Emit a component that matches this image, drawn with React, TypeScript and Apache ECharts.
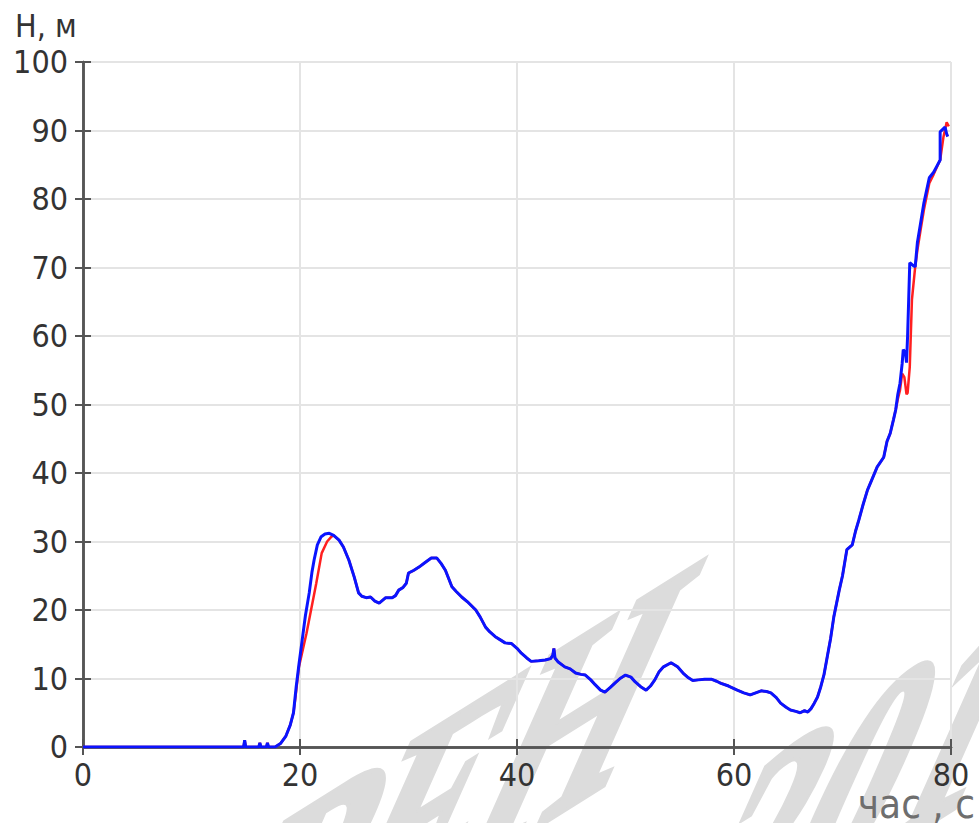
import React, { useEffect, useRef } from "react";
import * as echarts from "echarts";

// Flat start with a few short blips before the climb begins.
const leadIn: [number, number][] = [
  [0, 0], [14.8, 0], [14.9, 1.0], [15.0, 0], [16.2, 0], [16.3, 0.6], [16.4, 0],
  [16.9, 0], [17.0, 0.6], [17.1, 0], [17.7, 0], [18.2, 0.5], [18.7, 1.6],
  [19.1, 3.2], [19.4, 5.0],
];

// First climb, measured track (blue).
const blueRise: [number, number][] = [
  [19.65, 8.8], [19.9, 12.0], [20.2, 15.6], [20.5, 19.2], [20.85, 22.5],
  [21.1, 25.5], [21.3, 27.3], [21.6, 29.5], [21.95, 30.7], [22.3, 31.1],
  [22.7, 31.2],
];

// First climb, reference track (red).
const redRise: [number, number][] = [
  [19.6, 7.5], [19.9, 11.7], [20.6, 16.6], [21.5, 23.9], [22.0, 28.3],
  [22.5, 30.0], [22.9, 30.7],
];

// Section where both tracks coincide.
const shared: [number, number][] = [
  [23.1, 30.9], [23.6, 30.2], [24.0, 29.2], [24.5, 27.3], [25.0, 24.8],
  [25.4, 22.5], [25.7, 22.0], [26.1, 21.8], [26.5, 21.9], [26.9, 21.3],
  [27.3, 21.0], [27.6, 21.4], [27.9, 21.8], [28.5, 21.8], [28.8, 22.1],
  [29.1, 22.9], [29.5, 23.3], [29.8, 23.9], [30.0, 25.4], [30.5, 25.8],
  [31.0, 26.3], [31.5, 26.9], [32.1, 27.6], [32.6, 27.6], [33.0, 26.8],
  [33.4, 25.8], [34.0, 23.4], [34.4, 22.7], [34.9, 21.9], [35.5, 21.1],
  [36.2, 20.0], [36.6, 19.0], [37.1, 17.5], [37.5, 16.8], [38.0, 16.1],
  [38.5, 15.6], [38.9, 15.2], [39.5, 15.1], [40.0, 14.4], [40.4, 13.7],
  [40.9, 13.0], [41.3, 12.5], [42.0, 12.6], [42.6, 12.7], [43.1, 12.9],
  [43.3, 13.4], [43.4, 14.4], [43.5, 13.0], [43.8, 12.4], [44.4, 11.7],
  [44.9, 11.4], [45.4, 10.8], [45.9, 10.6], [46.3, 10.5], [46.8, 9.8],
  [47.2, 9.1], [47.7, 8.3], [48.1, 8.0], [48.6, 8.7], [49.0, 9.3],
  [49.5, 10.0], [50.0, 10.5], [50.5, 10.2], [50.9, 9.5], [51.4, 8.8],
  [51.9, 8.3], [52.3, 8.9], [52.7, 9.8], [53.1, 11.0], [53.5, 11.7],
  [54.2, 12.3], [54.8, 11.7], [55.3, 10.8], [55.8, 10.1], [56.2, 9.7],
  [56.7, 9.8], [57.3, 9.9], [57.9, 9.9], [58.4, 9.6], [58.8, 9.3],
  [59.5, 8.9], [60.3, 8.3], [60.9, 7.9], [61.5, 7.6], [62.0, 7.9],
  [62.5, 8.2], [63.0, 8.1], [63.4, 7.9], [63.9, 7.2], [64.3, 6.4],
  [64.8, 5.8], [65.2, 5.4], [65.7, 5.2], [66.1, 5.0], [66.5, 5.3],
  [66.8, 5.1], [67.1, 5.6], [67.4, 6.4], [67.7, 7.3], [68.0, 8.8],
  [68.3, 10.6], [68.6, 13.2], [68.9, 15.8], [69.2, 19.0], [69.7, 22.9],
  [70.0, 25.0], [70.4, 28.8], [70.9, 29.5], [71.2, 31.5], [71.5, 33.1],
  [71.9, 35.4], [72.3, 37.5], [72.7, 39.0], [73.2, 40.9], [73.8, 42.3],
  [74.1, 44.6], [74.4, 45.8], [74.7, 47.8], [74.9, 49.2],
];

// Final steep climb, measured track (blue).
const blueTop: [number, number][] = [
  [75.1, 51.5], [75.3, 53.1], [75.5, 56.0], [75.6, 58.0], [75.8, 57.6],
  [75.9, 56.1], [76.0, 60.0], [76.1, 65.3], [76.2, 70.7], [76.5, 70.3],
  [76.7, 70.1], [76.9, 73.6], [77.2, 76.5], [77.5, 79.4], [78.0, 83.1],
  [78.4, 83.9], [78.7, 84.8], [79.0, 85.7], [79.0, 89.8], [79.45, 90.5],
  [79.6, 89.5], [79.7, 89.1],
];

// Final steep climb, reference track (red).
const redTop: [number, number][] = [
  [75.1, 50.8], [75.3, 52.1], [75.5, 54.5], [75.7, 54.0], [75.9, 51.5],
  [76.0, 51.7], [76.2, 55.5], [76.4, 65.3], [76.7, 70.1], [76.9, 72.5],
  [77.2, 75.5], [77.5, 78.4], [78.0, 82.3], [78.4, 83.6], [79.0, 85.7],
  [79.3, 89.0], [79.6, 91.2], [79.8, 90.6],
];

const blueTrack = [...leadIn, ...blueRise, ...shared, ...blueTop];
const redTrack = [...leadIn, ...redRise, ...shared, ...redTop];

const xTicks = { min: 0, max: 80, step: 20 };
const yTicks = { min: 0, max: 100, step: 10 };

const yName = "H, м";
const xName = "час , с";
const stampLines = ["РЕН", "201"];

const axisColor = "#555555";
const labelFont = "'DejaVu Sans Condensed', 'Noto Sans', sans-serif";

// Builds nested rotate/scale/rotate transforms so a text lies on a slanted,
// sheared frame: baseline at baseDeg, glyph "up" at upDeg (screen degrees).
function shearFrame(baseDeg: number, upDeg: number, a: number, b: number) {
  const r = Math.PI / 180;
  const m00 = a * Math.cos(baseDeg * r);
  const m10 = -a * Math.sin(baseDeg * r);
  const m01 = -b * Math.cos(upDeg * r);
  const m11 = b * Math.sin(upDeg * r);
  const E = (m00 + m11) / 2;
  const F = (m00 - m11) / 2;
  const G = (m10 + m01) / 2;
  const H = (m10 - m01) / 2;
  const Q = Math.hypot(E, H);
  const R = Math.hypot(F, G);
  const a1 = Math.atan2(G, F);
  const a2 = Math.atan2(H, E);
  return {
    outer: -(a2 + a1) / 2,
    sx: Q + R,
    sy: Q - R,
    inner: -(a2 - a1) / 2,
  };
}

function stamp(text: string, x: number, y: number) {
  const f = shearFrame(32, 66, 0.72, 1.1);
  return {
    type: "group",
    x,
    y,
    rotation: f.outer,
    z: -10,
    silent: true,
    children: [
      {
        type: "group",
        scaleX: f.sx,
        scaleY: f.sy,
        children: [
          {
            type: "text",
            rotation: f.inner,
            z: -10,
            style: {
              text,
              x: 0,
              y: 0,
              align: "center",
              verticalAlign: "middle",
              font: "bold 340px 'Liberation Serif', 'DejaVu Serif', serif",
              fill: "#dcdcdc",
              stroke: "#dcdcdc",
              lineWidth: 9,
              lineJoin: "round",
            },
          },
        ],
      },
    ],
  };
}

export default function App() {
  const ref = useRef<HTMLDivElement>(null);

  useEffect(() => {
    if (!ref.current) return;
    const chart = echarts.init(ref.current, null, { renderer: "svg" });

    const frameAxis = {
      axisLine: { show: true, lineStyle: { color: axisColor, width: 2.5 } },
      axisTick: { show: true, inside: true, length: 8, lineStyle: { color: axisColor, width: 2 } },
      axisLabel: { show: false },
      splitLine: { show: false },
    };

    chart.setOption({
      animation: false,
      backgroundColor: "#ffffff",
      grid: { left: 83, right: 28, top: 62, bottom: 76, containLabel: false },
      xAxis: [
        {
          type: "value",
          position: "bottom",
          min: xTicks.min,
          max: xTicks.max,
          interval: xTicks.step,
          axisLine: { show: true, lineStyle: { color: axisColor, width: 2.5 } },
          axisTick: { show: true, inside: true, length: 8, lineStyle: { color: axisColor, width: 2 } },
          axisLabel: { color: "#333333", fontSize: 32, fontFamily: labelFont, margin: 12 },
          splitLine: { show: true, lineStyle: { color: "#e4e4e4", width: 2 } },
        },
        { type: "value", position: "top", min: xTicks.min, max: xTicks.max, interval: xTicks.step, ...frameAxis },
      ],
      yAxis: [
        {
          type: "value",
          position: "left",
          min: yTicks.min,
          max: yTicks.max,
          interval: yTicks.step,
          axisLine: { show: true, lineStyle: { color: axisColor, width: 2.5 } },
          axisTick: { show: true, inside: true, length: 8, lineStyle: { color: axisColor, width: 2 } },
          axisLabel: { color: "#333333", fontSize: 32, fontFamily: labelFont, margin: 15 },
          splitLine: { show: true, lineStyle: { color: "#e4e4e4", width: 2 } },
        },
        { type: "value", position: "right", min: yTicks.min, max: yTicks.max, interval: yTicks.step, ...frameAxis },
      ],
      graphic: [
        stamp(stampLines[0], 446, 800),
        stamp(stampLines[1], 862, 782),
        {
          type: "text",
          x: 15,
          y: 26,
          z: 10,
          style: {
            text: yName,
            align: "left",
            verticalAlign: "middle",
            font: `32px ${labelFont}`,
            fill: "#333333",
          },
        },
        {
          type: "text",
          x: 975,
          y: 804,
          z: 10,
          style: {
            text: xName,
            align: "right",
            verticalAlign: "middle",
            font: `40px ${labelFont}`,
            fill: "#6e6e6e",
          },
        },
      ],
      series: [
        {
          name: "reference",
          type: "line",
          data: redTrack,
          showSymbol: false,
          lineStyle: { color: "#ff2020", width: 2.5 },
          z: 3,
        },
        {
          name: "measured",
          type: "line",
          data: blueTrack,
          showSymbol: false,
          lineStyle: { color: "#0a14ff", width: 3 },
          z: 4,
        },
      ],
    });

    return () => chart.dispose();
  }, []);

  return <div ref={ref} style={{ width: 979, height: 823, position: "absolute", left: 0, top: 0 }} />;
}
